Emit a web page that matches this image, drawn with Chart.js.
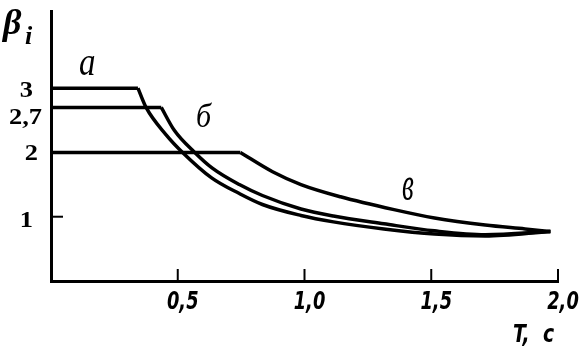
<!DOCTYPE html>
<html>
<head>
<meta charset="utf-8">
<script src="https://cdn.jsdelivr.net/npm/chart.js@4"></script>
<style>
  html, body { margin: 0; padding: 0; background: #fff; }
  canvas { display: block; }
</style>
</head>
<body>
<canvas id="chart" width="585" height="352"></canvas>
<script>
// curve а: plateau at 3, then the falling branch
const tA    = [0, 0.343, 0.375, 0.455, 0.519, 0.635, 0.743, 0.834, 0.986, 1.114, 1.313, 1.513, 1.713, 1.97];
const betaA = [3, 3, 2.7, 2.27, 2.0, 1.60, 1.36, 1.19, 1.02, 0.92, 0.81, 0.73, 0.70, 0.77];
// curve б
const tB    = [0, 0.435, 0.487, 0.567, 0.635, 0.743, 0.834, 0.986, 1.114, 1.313, 1.513, 1.713, 1.97];
const betaB = [2.7, 2.7, 2.34, 2.0, 1.76, 1.50, 1.33, 1.12, 1.01, 0.89, 0.78, 0.72, 0.77];
// curve в
const tV    = [0, 0.747, 0.874, 0.986, 1.142, 1.353, 1.513, 1.713, 1.87, 1.97];
const betaV = [2, 2, 1.70, 1.50, 1.31, 1.11, 0.98, 0.87, 0.81, 0.77];

const xTicks = [0.5, 1.0, 1.5, 2.0];
const yTicks = [1, 2, 2.7, 3];
const curveNames = ['а', 'б', 'в'];

function toPoints(xs, ys) {
    return xs.map((x, i) => ({ x: x, y: ys[i] }));
}

function fmt(v, digits) {
    return v.toFixed(digits).replace('.', ',');
}

// each curve = straight plateau + smooth branch starting at the corner
function curveDatasets(name, xs, ys) {
    const pts = toPoints(xs, ys);
    const common = { borderColor: '#000', borderWidth: 3.5, pointRadius: 0, fill: false, clip: false };
    return [
        Object.assign({ label: name, data: pts.slice(0, 2), tension: 0 }, common),
        Object.assign({ label: name, data: pts.slice(1), cubicInterpolationMode: 'monotone' }, common)
    ];
}

const narrowFont = 'italic bold 22px "DejaVu Sans Condensed", "DejaVu Sans", sans-serif';

function stretchedText(ctx, text, px, py, sx, sy) {
    ctx.save();
    ctx.translate(px, py);
    ctx.scale(sx, sy);
    ctx.fillText(text, 0, 0);
    ctx.restore();
}

// tick marks, labels and captions drawn against the chart's own scales
const decorations = {
    id: 'decorations',
    afterDraw(chart) {
        const ctx = chart.ctx;
        const x = chart.scales.x;
        const y = chart.scales.y;
        const x0 = x.getPixelForValue(0);
        const y0 = y.getPixelForValue(0);
        ctx.save();
        ctx.strokeStyle = '#000';
        ctx.fillStyle = '#000';
        ctx.lineWidth = 2;

        // x ticks point up into the plot
        xTicks.forEach(v => {
            const px = x.getPixelForValue(v);
            ctx.beginPath();
            ctx.moveTo(px, y0);
            ctx.lineTo(px, y0 - 12);
            ctx.stroke();
        });
        // only 1 has a tick mark on y
        const p1 = y.getPixelForValue(1);
        ctx.beginPath();
        ctx.moveTo(x0, p1);
        ctx.lineTo(x0 + 12, p1);
        ctx.stroke();

        ctx.font = narrowFont;
        ctx.textAlign = 'center';
        ctx.textBaseline = 'alphabetic';
        xTicks.forEach(v => {
            stretchedText(ctx, fmt(v, 1), x.getPixelForValue(v) + 5, y0 + 28, 0.9, 1.1);
        });

        ctx.font = 'bold 24px "Liberation Serif", "DejaVu Serif", serif';
        ctx.textAlign = 'right';
        ctx.textBaseline = 'middle';
        const yShift = { 1: [18, 4], 2: [13, 1], 2.7: [9, 10], 3: [18, 3] };
        yTicks.forEach(v => {
            const label = Number.isInteger(v) ? String(v) : fmt(v, 1);
            const s = yShift[v];
            stretchedText(ctx, label, x0 - s[0], y.getPixelForValue(v) + s[1], 1.1, 1.0);
        });

        // axis titles
        ctx.textAlign = 'left';
        ctx.textBaseline = 'alphabetic';
        ctx.font = 'italic bold 36px "Liberation Serif", "DejaVu Serif", serif';
        ctx.fillText('β', 3, 34);
        ctx.font = 'italic bold 26px "Liberation Serif", "DejaVu Serif", serif';
        ctx.fillText('i', 25, 44);

        ctx.font = narrowFont;
        stretchedText(ctx, 'T,', 513, 342, 0.95, 1.1);
        stretchedText(ctx, 'с', 543, 342, 0.95, 1.1);

        // curve captions
        ctx.font = 'italic 30px "Liberation Serif", "DejaVu Serif", serif';
        stretchedText(ctx, curveNames[0], 79, 75, 1.1, 1.3);
        stretchedText(ctx, curveNames[1], 196, 127, 1.0, 1.15);
        stretchedText(ctx, curveNames[2], 402, 200, 0.9, 1.6);
        ctx.restore();
    }
};

new Chart(document.getElementById('chart'), {
    type: 'line',
    data: {
        datasets: [].concat(
            curveDatasets(curveNames[0], tA, betaA),
            curveDatasets(curveNames[1], tB, betaB),
            curveDatasets(curveNames[2], tV, betaV)
        )
    },
    options: {
        responsive: false,
        animation: false,
        layout: {
            padding: { left: 51, right: 27, top: 11, bottom: 71 }
        },
        plugins: {
            legend: { display: false },
            tooltip: { enabled: false }
        },
        scales: {
            x: {
                type: 'linear',
                min: 0,
                max: 2,
                grid: { display: false, drawTicks: false },
                border: { display: true, color: '#000', width: 3 },
                ticks: { display: false }
            },
            y: {
                type: 'linear',
                min: 0,
                max: 4.2,
                grid: { display: false, drawTicks: false },
                border: { display: true, color: '#000', width: 3 },
                ticks: { display: false }
            }
        }
    },
    plugins: [decorations]
});
</script>
</body>
</html>
